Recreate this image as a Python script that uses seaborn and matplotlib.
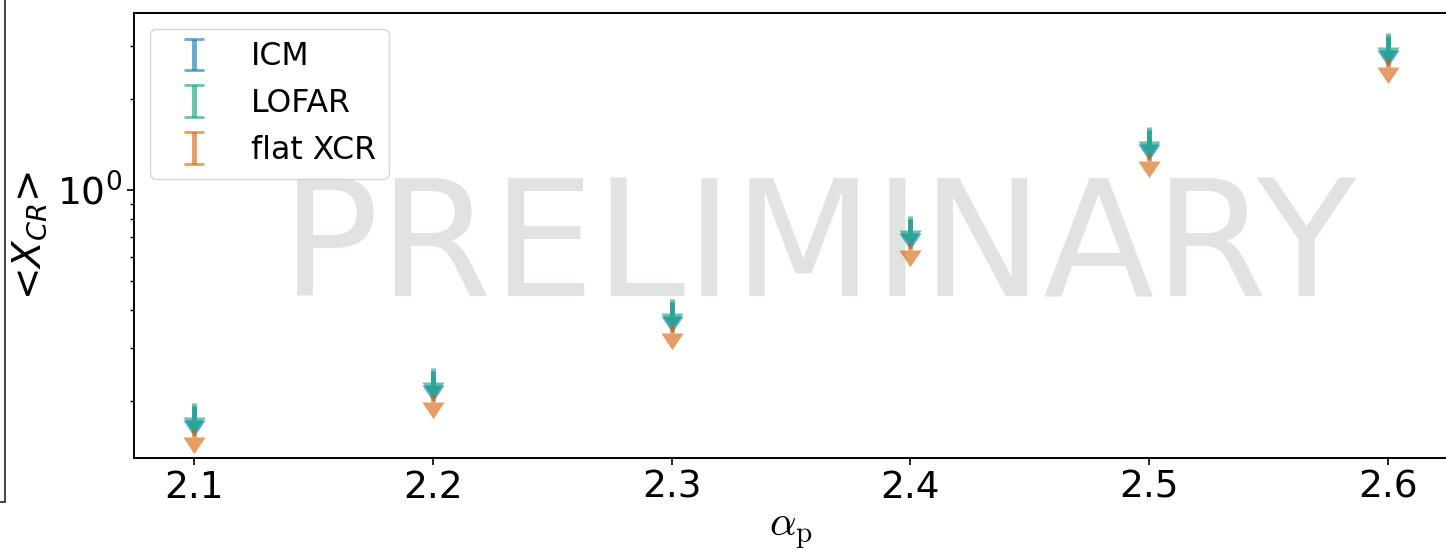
import numpy as np
import matplotlib
matplotlib.use("Agg")
import matplotlib.pyplot as plt
import seaborn as sns
from matplotlib.lines import Line2D
from matplotlib.markers import MarkerStyle

# ---- data ----
alpha_p = [2.1, 2.2, 2.3, 2.4, 2.5, 2.6]
icm_limit = [0.192, 0.251, 0.424, 0.801, 1.581, 3.236]
lofar_limit = [0.196, 0.257, 0.434, 0.820, 1.618, 3.311]
flat_xcr_limit = [0.161, 0.210, 0.356, 0.672, 1.327, 2.715]
series_labels = ["ICM", "LOFAR", "flat XCR"]
x_tick_labels = ["2.1", "2.2", "2.3", "2.4", "2.5", "2.6"]
rel_err = [0.10, 0.10, 0.06]

sns.set_style("ticks", {"axes.edgecolor": "black", "xtick.color": "black",
                        "ytick.color": "black", "text.color": "black",
                        "axes.labelcolor": "black"})
plt.rcParams['font.family'] = ['DejaVu Sans']
plt.rcParams['mathtext.fontset'] = 'dejavusans'

palette = sns.color_palette("colorblind")
colors = [palette[0], palette[2], palette[3]]

fig = plt.figure(figsize=(14.46, 5.52), dpi=100)
ax = fig.add_axes([134.3 / 1446, 94 / 552, 1313.4 / 1446, 445 / 552])
ax.set_yscale('log')

containers = []
for vals, lab, col, frac in zip([icm_limit, lofar_limit, flat_xcr_limit],
                                series_labels, colors, rel_err):
    y = np.asarray(vals)
    cont = ax.errorbar(alpha_p, y, yerr=frac * y, uplims=True, fmt='none',
                       ecolor=col, elinewidth=3.5, capsize=7.2, capthick=2,
                       alpha=0.6, label=lab)
    containers.append((cont, col))

leg = ax.legend(loc='upper left', fontsize=22.7, borderaxespad=0.5)

# turn the upper-limit carets into filled arrow heads
tri = MarkerStyle([(-1, 0), (1, 0), (0, -1.5), (-1, 0)])
for cont, col in containers:
    _, caplines, _ = cont.lines
    for i, cl in enumerate(caplines):
        if i == 0:
            cl.set_marker(tri)
            cl.set_markersize(24)
            cl.set_markeredgewidth(0)
            cl.set_markerfacecolor(col)
        else:
            cl.set_visible(False)

ax.set_xlim(2.075, 2.625)
ax.set_ylim(0.129, 3.868)
ax.set_xticks(alpha_p)
ax.set_xticklabels(x_tick_labels)
ax.tick_params(axis='both', which='major', labelsize=27, length=5, width=1.2)
ax.tick_params(axis='y', which='minor', length=3, width=1.0)
for s in ax.spines.values():
    s.set_linewidth(1.4)

ax.set_xlabel(r'$\alpha_\mathrm{p}$', fontsize=30, math_fontfamily='cm',
              labelpad=2)
ax.set_ylabel(r'<$X_{CR}$>', fontsize=28, labelpad=6)

ax.text((819 - 134.3) / 1313.4, (458 - 295) / 445, "PRELIMINARY",
        transform=ax.transAxes, ha='center', va='baseline',
        fontsize=117, color='#e1e3e1', zorder=0.5)

# edge of a neighbouring panel visible at the left border of the crop
fig.add_artist(Line2D([4.7 / 1446, 4.7 / 1446], [1.0, 50 / 552],
                      transform=fig.transFigure, color='#444444', lw=1.4))
fig.add_artist(Line2D([0, 4.7 / 1446], [50 / 552, 50 / 552],
                      transform=fig.transFigure, color='#444444', lw=1.4))

fig.savefig("out.png", dpi=100)
